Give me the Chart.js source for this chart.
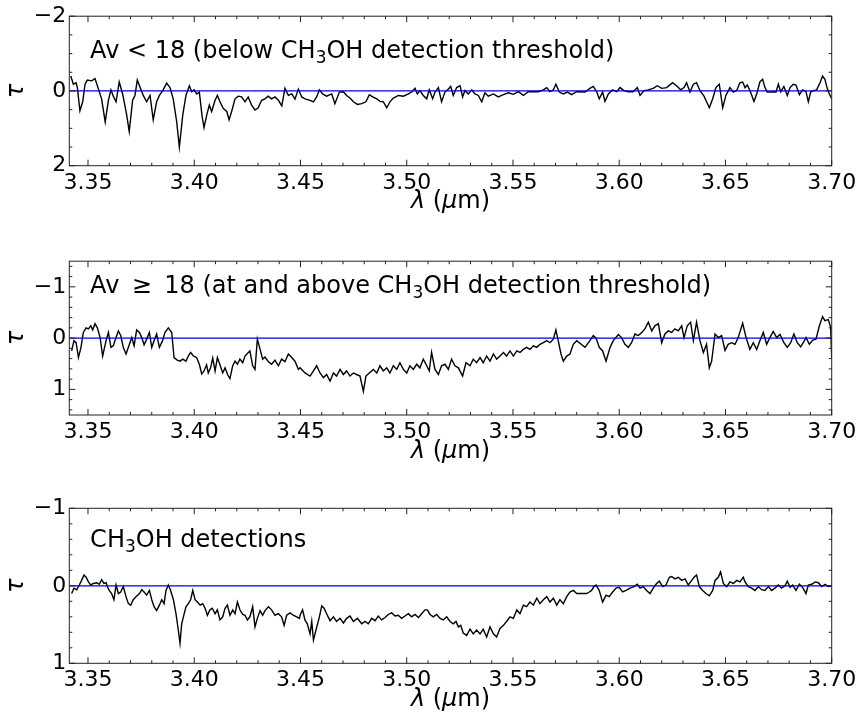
<!DOCTYPE html>
<html>
<head>
<meta charset="utf-8">
<script src="https://cdn.jsdelivr.net/npm/chart.js@4.4.0/dist/chart.umd.min.js"></script>
<style>
  body { margin: 0; background: #fff; }
  #wrap { position: relative; width: 863px; height: 719px; }
  canvas { position: absolute; left: 0; }
</style>
</head>
<body>
<div id="wrap">
  <canvas id="p1" width="863" height="245" style="top:0px"></canvas>
  <canvas id="p2" width="863" height="245" style="top:245px"></canvas>
  <canvas id="p3" width="863" height="229" style="top:490px"></canvas>
</div>
<script>
// wavelength range shared by the three panels (micron)
const X_MIN = 3.3412, X_MAX = 3.70;
const xLabels = [3.35, 3.40, 3.45, 3.50, 3.55, 3.60, 3.65, 3.70];

// Av < 18 stack
const lam1 = [3.3419,3.3431,3.3444,3.3450,3.3462,3.3475,3.3486,3.3497,3.3517,3.3533,3.3549,3.3564,3.3581,3.3596,3.3608,3.3619,3.3632,3.3647,3.3663,3.3682,3.3694,3.3710,3.3721,3.3732,3.3748,3.3760,3.3776,3.3792,3.3807,3.3823,3.3836,3.3852,3.3870,3.3886,3.3901,3.3917,3.3930,3.3946,3.3961,3.3977,3.3988,3.3999,3.4012,3.4024,3.4037,3.4046,3.4059,3.4071,3.4082,3.4098,3.4109,3.4121,3.4137,3.4153,3.4164,3.4176,3.4192,3.4207,3.4223,3.4239,3.4254,3.4270,3.4286,3.4301,3.4317,3.4333,3.4348,3.4364,3.4380,3.4396,3.4412,3.4427,3.4443,3.4459,3.4474,3.4490,
  3.4506,3.4521,3.4545,3.4561,3.4576,3.4589,3.4604,3.4623,3.4647,3.4662,3.4683,3.4702,3.4717,3.4733,3.4749,3.4768,3.4788,3.4808,3.4824,3.4840,3.4859,3.4874,3.4890,3.4906,3.4921,3.4937,3.4961,3.4984,3.5008,3.5023,3.5039,3.5050,3.5062,3.5078,3.5094,3.5106,3.5122,3.5133,3.5149,3.5164,3.5180,3.5196,3.5207,3.5219,3.5235,3.5251,3.5263,3.5274,3.5290,3.5306,3.5321,3.5337,3.5353,3.5368,3.5384,3.5408,3.5431,3.5455,3.5478,3.5502,3.5525,3.5549,3.5572,3.5596,3.5619,3.5643,3.5659,3.5674,3.5690,3.5702,3.5718,3.5737,3.5756,3.5776,3.5800,
  3.5839,3.5862,3.5878,3.5894,3.5906,3.5922,3.5933,3.5949,3.5969,3.5988,3.6004,3.6022,3.6043,3.6066,3.6085,3.6098,3.6117,3.6137,3.6160,3.6179,3.6200,3.6223,3.6251,3.6270,3.6289,3.6305,3.6317,3.6333,3.6349,3.6364,3.6380,3.6399,3.6411,3.6424,3.6440,3.6455,3.6471,3.6487,3.6502,3.6521,3.6537,3.6553,3.6568,3.6581,3.6592,3.6603,3.6618,3.6634,3.6647,3.6662,3.6675,3.6686,3.6697,3.6709,3.6725,3.6738,3.6749,3.6760,3.6775,3.6791,3.6804,3.6819,3.6832,3.6848,3.6863,3.6879,3.6890,3.6901,3.6914,3.6929,3.6945,3.6957,3.6968,3.6979,3.6989,3.7000];
const tau1 = [-0.40,-0.18,-0.22,-0.09,0.53,0.29,-0.18,-0.29,-0.27,-0.33,-0.05,0.21,0.83,0.25,-0.03,0.14,0.29,-0.24,0.08,0.64,1.09,0.25,0.12,-0.29,-0.05,0.12,0.29,0.12,0.77,0.29,0.12,-0.01,-0.21,-0.09,0.21,0.81,1.50,0.64,0.12,-0.14,0.02,-0.03,0.08,0.03,0.68,0.98,0.64,0.38,0.55,0.25,0.12,0.29,0.47,0.55,0.77,0.55,0.21,0.14,0.16,0.29,0.16,0.38,0.51,0.45,0.25,0.21,0.14,0.21,0.16,0.25,0.40,-0.07,0.12,0.08,0.22,-0.05,
  0.16,0.21,0.25,0.29,0.16,-0.03,0.08,0.14,0.08,0.34,0.03,0.02,0.12,0.19,0.29,0.36,0.34,0.29,0.10,0.16,0.21,0.28,0.29,0.45,0.29,0.19,0.12,0.14,0.08,0.03,-0.07,0.08,-0.01,0.12,0.21,-0.03,0.21,0.03,-0.09,0.29,0.03,-0.05,-0.12,0.12,-0.09,-0.14,0.16,-0.01,0.08,-0.03,0.08,0.12,0.29,0.05,0.14,0.08,0.16,0.10,0.05,0.09,0.02,0.12,0.02,0.02,0.02,-0.03,-0.09,0.02,-0.03,-0.18,0.03,0.08,0.03,0.10,0.02,
  0.03,-0.07,-0.12,0.02,0.21,0.03,0.28,0.08,-0.03,0.02,-0.09,-0.01,0.02,0.02,-0.09,0.12,-0.01,-0.03,-0.07,-0.14,-0.07,-0.09,-0.22,-0.14,-0.03,-0.09,-0.22,0.03,-0.18,-0.22,-0.01,0.14,0.29,0.45,0.21,-0.09,-0.18,0.45,0.12,-0.09,0.03,-0.01,-0.22,-0.24,-0.09,-0.16,0.03,0.28,0.08,-0.24,-0.31,-0.09,0.03,0.03,0.02,0.03,-0.18,0.02,-0.12,0.12,-0.09,-0.18,-0.16,0.10,-0.03,0.02,0.29,0.03,-0.01,-0.03,-0.22,-0.40,-0.31,-0.07,0.08,0.21];

// Av >= 18 stack
const lam2 = [3.3423,3.3434,3.3444,3.3455,3.3467,3.3478,3.3491,3.3502,3.3513,3.3522,3.3533,3.3544,3.3557,3.3569,3.3585,3.3596,3.3608,3.3619,3.3632,3.3643,3.3654,3.3666,3.3679,3.3695,3.3706,3.3717,3.3729,3.3742,3.3753,3.3764,3.3776,3.3789,3.3800,3.3811,3.3823,3.3836,3.3851,3.3862,3.3878,3.3894,3.3905,3.3920,3.3933,3.3946,3.3961,3.3972,3.3983,3.3996,3.4011,3.4024,3.4035,3.4046,3.4058,3.4066,3.4077,3.4087,3.4098,3.4109,3.4121,3.4134,3.4145,3.4157,3.4168,3.4181,3.4192,3.4203,3.4215,3.4228,3.4239,3.4250,3.4262,3.4275,3.4286,3.4297,3.4310,3.4322,3.4333,3.4349,3.4364,3.4380,3.4396,3.4411,3.4427,3.4443,3.4459,3.4474,3.4490,
  3.4498,3.4521,3.4545,3.4561,3.4576,3.4592,3.4608,3.4623,3.4639,3.4655,3.4670,3.4686,3.4702,3.4717,3.4733,3.4749,3.4764,3.4780,3.4796,3.4808,3.4824,3.4843,3.4859,3.4874,3.4890,3.4906,3.4921,3.4937,3.4953,3.4968,3.4984,3.5000,3.5015,3.5031,3.5047,3.5062,3.5078,3.5094,3.5106,3.5117,3.5133,3.5149,3.5164,3.5180,3.5196,3.5211,3.5227,3.5243,3.5263,3.5279,3.5298,3.5313,3.5329,3.5345,3.5360,3.5376,3.5392,3.5408,3.5423,3.5439,3.5455,3.5470,3.5486,3.5502,3.5518,3.5533,3.5549,3.5564,3.5580,3.5596,3.5612,3.5627,3.5643,3.5659,3.5674,3.5690,3.5702,3.5713,3.5726,3.5737,3.5753,3.5768,3.5784,3.5800,
  3.5839,3.5862,3.5878,3.5891,3.5906,3.5922,3.5938,3.5957,3.5972,3.5996,3.6011,3.6027,3.6043,3.6058,3.6074,3.6090,3.6106,3.6121,3.6137,3.6153,3.6168,3.6184,3.6200,3.6215,3.6231,3.6247,3.6262,3.6278,3.6294,3.6305,3.6320,3.6336,3.6349,3.6364,3.6380,3.6396,3.6411,3.6424,3.6435,3.6451,3.6466,3.6482,3.6498,3.6513,3.6529,3.6545,3.6560,3.6581,3.6597,3.6615,3.6631,3.6647,3.6662,3.6678,3.6694,3.6709,3.6725,3.6741,3.6757,3.6775,3.6791,3.6807,3.6822,3.6838,3.6854,3.6866,3.6879,3.6895,3.6911,3.6926,3.6942,3.6957,3.6968,3.6984,3.6995,3.7000];
const tau2 = [0.25,0.05,0.09,0.38,0.18,-0.11,-0.20,-0.18,-0.24,-0.16,-0.28,-0.20,-0.01,0.35,0.05,-0.11,0.18,0.15,-0.01,-0.14,-0.05,0.18,0.31,0.12,-0.01,0.15,-0.16,-0.11,-0.01,0.13,0.02,-0.11,0.18,0.05,-0.08,0.18,0.05,-0.11,-0.20,-0.11,0.38,0.43,0.45,0.41,0.45,0.35,0.28,0.35,0.38,0.51,0.70,0.64,0.52,0.68,0.58,0.39,0.64,0.38,0.52,0.68,0.58,0.71,0.79,0.54,0.45,0.51,0.41,0.48,0.35,0.30,0.25,0.54,0.61,0.02,0.22,0.41,0.37,0.46,0.51,0.43,0.54,0.41,0.46,0.31,0.38,0.45,0.61,
  0.58,0.68,0.74,0.64,0.54,0.68,0.77,0.71,0.84,0.68,0.74,0.61,0.71,0.64,0.74,0.68,0.71,0.74,1.04,0.74,0.68,0.61,0.68,0.54,0.64,0.58,0.68,0.54,0.61,0.48,0.61,0.68,0.54,0.61,0.51,0.58,0.41,0.54,0.64,0.28,0.61,0.71,0.54,0.51,0.61,0.41,0.54,0.58,0.74,0.48,0.54,0.41,0.48,0.38,0.48,0.35,0.45,0.31,0.41,0.35,0.28,0.35,0.25,0.35,0.25,0.28,0.22,0.18,0.22,0.15,0.18,0.12,0.09,0.05,0.09,0.02,-0.16,0.05,0.31,0.45,0.35,0.31,0.12,0.05,
  0.18,0.05,-0.05,0.00,0.18,0.25,0.45,0.18,0.05,-0.07,-0.01,0.12,0.18,0.09,-0.08,-0.05,-0.11,-0.18,-0.31,-0.14,-0.24,-0.28,0.09,-0.08,-0.14,-0.11,-0.18,-0.14,-0.24,-0.01,-0.24,-0.31,0.05,-0.31,0.05,0.28,0.12,0.58,0.45,-0.08,-0.01,-0.05,0.24,0.12,0.09,0.12,-0.01,-0.29,-0.01,0.22,0.09,0.22,0.05,-0.11,0.12,-0.01,-0.13,-0.01,-0.07,0.09,0.18,0.09,-0.08,0.09,0.17,0.09,-0.01,0.12,0.04,0.02,-0.24,-0.42,-0.34,-0.36,-0.21,0.39];

// CH3OH detections stack
const lam3 = [3.3423,3.3434,3.3447,3.3459,3.3470,3.3481,3.3491,3.3502,3.3513,3.3525,3.3541,3.3553,3.3564,3.3575,3.3585,3.3591,3.3600,3.3611,3.3622,3.3632,3.3643,3.3654,3.3666,3.3679,3.3690,3.3701,3.3713,3.3726,3.3742,3.3753,3.3764,3.3776,3.3789,3.3800,3.3811,3.3823,3.3836,3.3847,3.3858,3.3867,3.3878,3.3889,3.3902,3.3914,3.3925,3.3933,3.3941,3.3949,3.3961,3.3972,3.3983,3.3993,3.4004,3.4015,3.4028,3.4040,3.4051,3.4062,3.4074,3.4085,3.4098,3.4109,3.4121,3.4134,3.4145,3.4156,3.4168,3.4181,3.4192,3.4203,3.4215,3.4228,3.4239,3.4250,3.4262,3.4275,3.4286,3.4297,3.4310,3.4322,3.4333,3.4349,3.4364,3.4380,3.4396,3.4411,3.4423,3.4435,3.4451,3.4466,3.4482,3.4495,
  3.4498,3.4510,3.4521,3.4532,3.4545,3.4553,3.4561,3.4573,3.4589,3.4600,3.4611,3.4623,3.4639,3.4655,3.4670,3.4686,3.4702,3.4717,3.4733,3.4749,3.4768,3.4788,3.4804,3.4819,3.4835,3.4851,3.4866,3.4882,3.4898,3.4913,3.4929,3.4945,3.4960,3.4976,3.4992,3.5008,3.5023,3.5039,3.5055,3.5070,3.5086,3.5097,3.5110,3.5125,3.5141,3.5157,3.5172,3.5188,3.5204,3.5219,3.5232,3.5243,3.5254,3.5266,3.5282,3.5298,3.5313,3.5329,3.5345,3.5360,3.5376,3.5392,3.5408,3.5423,3.5439,3.5455,3.5470,3.5486,3.5502,3.5518,3.5533,3.5549,3.5564,3.5580,3.5596,3.5612,3.5627,3.5643,3.5659,3.5674,3.5690,3.5706,3.5721,3.5737,3.5753,3.5768,3.5784,3.5800,
  3.5847,3.5859,3.5870,3.5881,3.5891,3.5906,3.5922,3.5938,3.5953,3.5969,3.5985,3.6000,3.6016,3.6032,3.6051,3.6069,3.6085,3.6098,3.6113,3.6129,3.6145,3.6160,3.6176,3.6189,3.6204,3.6220,3.6236,3.6247,3.6262,3.6278,3.6294,3.6310,3.6325,3.6341,3.6352,3.6364,3.6377,3.6393,3.6408,3.6424,3.6440,3.6451,3.6466,3.6477,3.6490,3.6506,3.6521,3.6537,3.6553,3.6568,3.6584,3.6592,3.6608,3.6623,3.6639,3.6655,3.6670,3.6686,3.6702,3.6717,3.6733,3.6749,3.6764,3.6780,3.6791,3.6804,3.6816,3.6832,3.6848,3.6863,3.6879,3.6890,3.6906,3.6922,3.6937,3.6953,3.6969,3.6984,3.7000];
const tau3 = [0.10,0.03,0.05,-0.01,-0.07,-0.14,-0.11,-0.05,-0.01,-0.03,-0.04,-0.02,-0.08,-0.03,-0.04,0.01,0.06,0.10,0.18,-0.01,0.10,0.08,0.01,0.14,0.23,0.25,0.18,0.14,0.10,0.05,0.08,0.12,0.06,0.18,0.27,0.32,0.25,0.18,0.23,0.06,-0.01,0.06,0.18,0.36,0.57,0.74,0.49,0.40,0.27,0.23,0.18,0.06,0.18,0.21,0.25,0.23,0.29,0.38,0.31,0.29,0.36,0.31,0.44,0.40,0.29,0.25,0.38,0.31,0.36,0.21,0.31,0.37,0.38,0.44,0.40,0.27,0.53,0.42,0.32,0.38,0.32,0.27,0.31,0.38,0.36,0.40,0.51,0.38,0.35,0.38,0.40,0.42,
  0.38,0.31,0.44,0.49,0.62,0.46,0.70,0.57,0.40,0.26,0.29,0.36,0.45,0.40,0.46,0.42,0.48,0.42,0.39,0.46,0.42,0.49,0.46,0.49,0.42,0.45,0.39,0.44,0.41,0.37,0.35,0.39,0.38,0.42,0.39,0.36,0.40,0.37,0.41,0.36,0.31,0.31,0.37,0.40,0.37,0.42,0.44,0.40,0.46,0.49,0.46,0.53,0.51,0.61,0.64,0.56,0.62,0.57,0.62,0.56,0.66,0.53,0.62,0.66,0.55,0.51,0.46,0.40,0.42,0.31,0.36,0.25,0.27,0.21,0.25,0.16,0.23,0.18,0.14,0.21,0.16,0.25,0.18,0.23,0.14,0.08,0.06,0.10,
  0.10,0.08,0.06,0.01,-0.01,0.06,0.21,0.12,0.14,0.08,0.03,0.02,0.08,0.06,0.03,0.01,-0.02,0.03,0.01,0.06,0.10,0.03,-0.03,-0.06,0.01,-0.01,-0.11,-0.12,-0.09,-0.11,-0.07,-0.09,-0.01,-0.07,-0.11,-0.14,0.01,0.06,0.10,0.13,0.06,-0.07,-0.11,-0.18,-0.03,0.01,-0.05,-0.03,-0.07,-0.05,-0.11,-0.05,0.01,0.03,0.06,0.01,0.05,0.06,0.01,0.06,0.03,-0.01,0.03,0.00,-0.06,0.02,-0.01,0.06,-0.02,0.02,0.10,-0.01,-0.02,-0.05,-0.04,0.01,-0.02,0.01,0.00];

// y ranges (inverted axes), labelled ticks and minor tick step per panel
const yRange1 = [-2, 2],     yLabels1 = [-2, 0, 2],  yStep1 = 0.5;
const yRange2 = [-1.5, 1.5], yLabels2 = [-1, 0, 1],  yStep2 = 0.2;
const yRange3 = [-1, 1],     yLabels3 = [-1, 0, 1],  yStep3 = 0.2;

const FONT = 'DejaVu Sans';

const panels = {
  p1: { lam: lam1, tau: tau1, yr: yRange1, yl: yLabels1, ys: yStep1, top: 10.7, axisH: 79.3,
        titleAt: [3.351, -0.88],
        title: [['Av < 18 (below CH'], ['3', 1], ['OH detection threshold)']] },
  p2: { lam: lam2, tau: tau2, yr: yRange2, yl: yLabels2, ys: yStep2, top: 15, axisH: 75,
        titleAt: [3.351, -0.87],
        title: [['Av \u2009\u2265 \u200918 (at and above CH'], ['3', 1], ['OH detection threshold)']] },
  p3: { lam: lam3, tau: tau3, yr: yRange3, yl: yLabels3, ys: yStep3, top: 18.3, axisH: 55.7,
        titleAt: [3.351, -0.50],
        title: [['CH'], ['3', 1], ['OH detections']] }
};

const r2 = v => Math.round(v * 100) / 100;
const isXLabel = v => xLabels.some(l => Math.abs(l - v) < 1e-6);

function stepTicks(min, max, step) {
  const out = [];
  for (let k = Math.ceil(min / step - 1e-9); k <= Math.floor(max / step + 1e-9); k++) out.push(r2(k * step));
  return out;
}

// frame, inward ticks on all sides, panel caption and the wavelength label
const panelDecor = {
  id: 'panelDecor',
  afterDraw(chart) {
    const p = panels[chart.canvas.id];
    const { ctx, chartArea: a, scales: { x, y } } = chart;
    ctx.save();
    ctx.strokeStyle = '#222';
    ctx.lineWidth = 1;
    ctx.strokeRect(a.left, a.top, a.right - a.left, a.bottom - a.top);
    ctx.beginPath();
    x.ticks.forEach(t => {
      const px = x.getPixelForValue(t.value);
      const len = isXLabel(t.value) ? 6 : 3;
      ctx.moveTo(px, a.bottom); ctx.lineTo(px, a.bottom - len);
      ctx.moveTo(px, a.top); ctx.lineTo(px, a.top + len);
    });
    y.ticks.forEach(t => {
      const py = y.getPixelForValue(t.value);
      const len = p.yl.includes(t.value) ? 6 : 3;
      ctx.moveTo(a.left, py); ctx.lineTo(a.left + len, py);
      ctx.moveTo(a.right, py); ctx.lineTo(a.right - len, py);
    });
    ctx.stroke();

    ctx.fillStyle = '#000';
    ctx.textAlign = 'left';
    ctx.textBaseline = 'alphabetic';
    let tx = x.getPixelForValue(p.titleAt[0]);
    const ty = y.getPixelForValue(p.titleAt[1]);
    p.title.forEach(([s, sub]) => {
      ctx.font = (sub ? 17 : 24) + 'px "' + FONT + '"';
      ctx.fillText(s, tx, ty + (sub ? 5 : 0));
      tx += ctx.measureText(s).width;
    });

    const parts = [['\u03bb', 'italic '], [' (', ''], ['\u03bc', 'italic '], ['m)', '']];
    let w = 0;
    parts.forEach(([s, st]) => { ctx.font = st + '24px "' + FONT + '"'; w += ctx.measureText(s).width; });
    let lx = (a.left + a.right) / 2 - w / 2;
    const ly = a.bottom + 42.5;
    parts.forEach(([s, st]) => {
      ctx.font = st + '24px "' + FONT + '"';
      ctx.fillText(s, lx, ly);
      lx += ctx.measureText(s).width;
    });
    ctx.restore();
  }
};

Object.keys(panels).forEach(id => {
  const p = panels[id];
  const spectrum = p.lam.map((l, i) => ({ x: l, y: p.tau[i] }));
  const zeroLine = [{ x: X_MIN, y: 0 }, { x: X_MAX, y: 0 }];
  new Chart(document.getElementById(id), {
    type: 'line',
    data: {
      datasets: [
        { data: zeroLine, borderColor: '#0000dd', borderWidth: 1.3, order: 0 },
        { data: spectrum, borderColor: '#000000', borderWidth: 1.4, order: 1 }
      ]
    },
    options: {
      responsive: false,
      animation: false,
      events: [],
      layout: { autoPadding: false, padding: { top: p.top, right: 31.3, bottom: 0, left: 0 } },
      elements: { point: { radius: 0 }, line: { tension: 0 } },
      plugins: { legend: { display: false }, tooltip: { enabled: false } },
      scales: {
        x: {
          type: 'linear', min: X_MIN, max: X_MAX,
          grid: { display: false, drawTicks: false }, border: { display: false },
          afterBuildTicks: s => { s.ticks = stepTicks(3.35, X_MAX, 0.01).map(v => ({ value: v })); },
          afterFit: s => { s.height = p.axisH; },
          ticks: {
            autoSkip: false, maxRotation: 0, padding: 4, color: '#000',
            font: { family: FONT, size: 22 },
            callback: v => isXLabel(v) ? v.toFixed(2) : ''
          }
        },
        y: {
          type: 'linear', reverse: true, min: p.yr[0], max: p.yr[1],
          grid: { display: false, drawTicks: false }, border: { display: false },
          afterBuildTicks: s => { s.ticks = stepTicks(p.yr[0], p.yr[1], p.ys).map(v => ({ value: v })); },
          afterFit: s => { s.width = 69.3; },
          ticks: {
            autoSkip: false, padding: 3, color: '#000',
            font: { family: FONT, size: 22 },
            callback: v => p.yl.includes(v) ? (v < 0 ? '\u2212' + Math.abs(v) : String(v)) : ''
          },
          title: {
            display: true, text: '\u03c4', color: '#000',
            font: { family: FONT, size: 24, style: 'italic' },
            padding: { top: 2, bottom: 0 }
          }
        }
      }
    },
    plugins: [panelDecor]
  });
});
</script>
</body>
</html>
